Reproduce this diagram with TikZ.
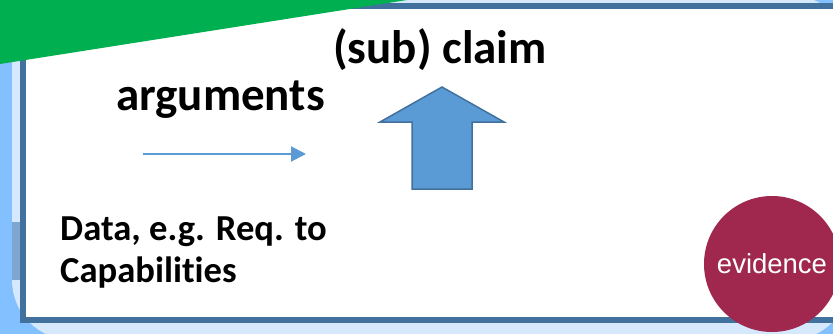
\documentclass[tikz,border=0pt]{standalone}
\usepackage{fontspec}
\setmainfont{Carlito}[Ligatures=NoCommon]
\newfontfamily\arialfont{Liberation Sans}
\usetikzlibrary{arrows.meta}
\definecolor{bgblue}{HTML}{D5E8FC}
\definecolor{brightblue}{HTML}{82C0FF}
\definecolor{grayblue}{HTML}{7EA6D0}
\definecolor{framecol}{HTML}{43719E}
\definecolor{officegreen}{HTML}{00B050}
\definecolor{arrowfill}{HTML}{5B9BD5}
\definecolor{arrowline}{HTML}{41719C}
\definecolor{evidcol}{HTML}{A0284F}
\tikzset{
  bigtext/.style={inner sep=0pt, anchor=base west, font=\fontsize{47}{56}\selectfont\bfseries},
  midtext/.style={inner sep=0pt, anchor=base west, font=\fontsize{36.6}{42}\selectfont\bfseries},
  thinarrow/.style={draw=arrowfill, line width=2pt, -{Triangle[length=15pt,width=15pt]}},
  blockarrow/.style={fill=arrowfill, draw=arrowline, line width=1.5pt, line join=miter},
  evidnode/.style={circle, fill=evidcol, minimum size=136pt, inner sep=0pt, text=white, font=\arialfont\fontsize{27.5}{33}\selectfont}
}
\begin{document}
\begin{tikzpicture}[x=1pt,y=-1pt]
\useasboundingbox (0,0) rectangle (833,333);
\begin{scope}
\clip (0,0) rectangle (833,333);
% background bands
\fill[brightblue] (-20,-20) rectangle (853,353);
\fill[bgblue, rounded corners=60pt] (12,-5) rectangle (850,340);
\fill[grayblue] (12,222) rectangle (21,280);
% main frame
\draw[framecol, fill=white, line width=5.8pt] (23.3,6.2) rectangle (845,319.7);
% green banner
\fill[officegreen] (-5,-5) -- (410,-5) -- (407,0) -- (0,64) -- (-5,65) -- cycle;
% texts
\node[bigtext] (claim) at (333,63) {(sub) claim};
\node[bigtext] (args) at (116,110) {arguments};
\node[midtext] (data1) at (60,240) {Data, e.g. Req. to};
\node[midtext] (data2) at (60,282) {Capabilities};
% thin arrow
\coordinate (ta) at (143,154);
\coordinate (tb) at (306,154);
\draw[thinarrow] (ta) -- (tb);
% block arrow
\draw[blockarrow] (442,87) -- (504,122) -- (472,122) -- (472,189) -- (412,189) -- (412,122) -- (380,122) -- cycle;
% evidence circle
\node[evidnode] (ev) at (772,264) {evidence};
\end{scope}
\end{tikzpicture}
\end{document}
